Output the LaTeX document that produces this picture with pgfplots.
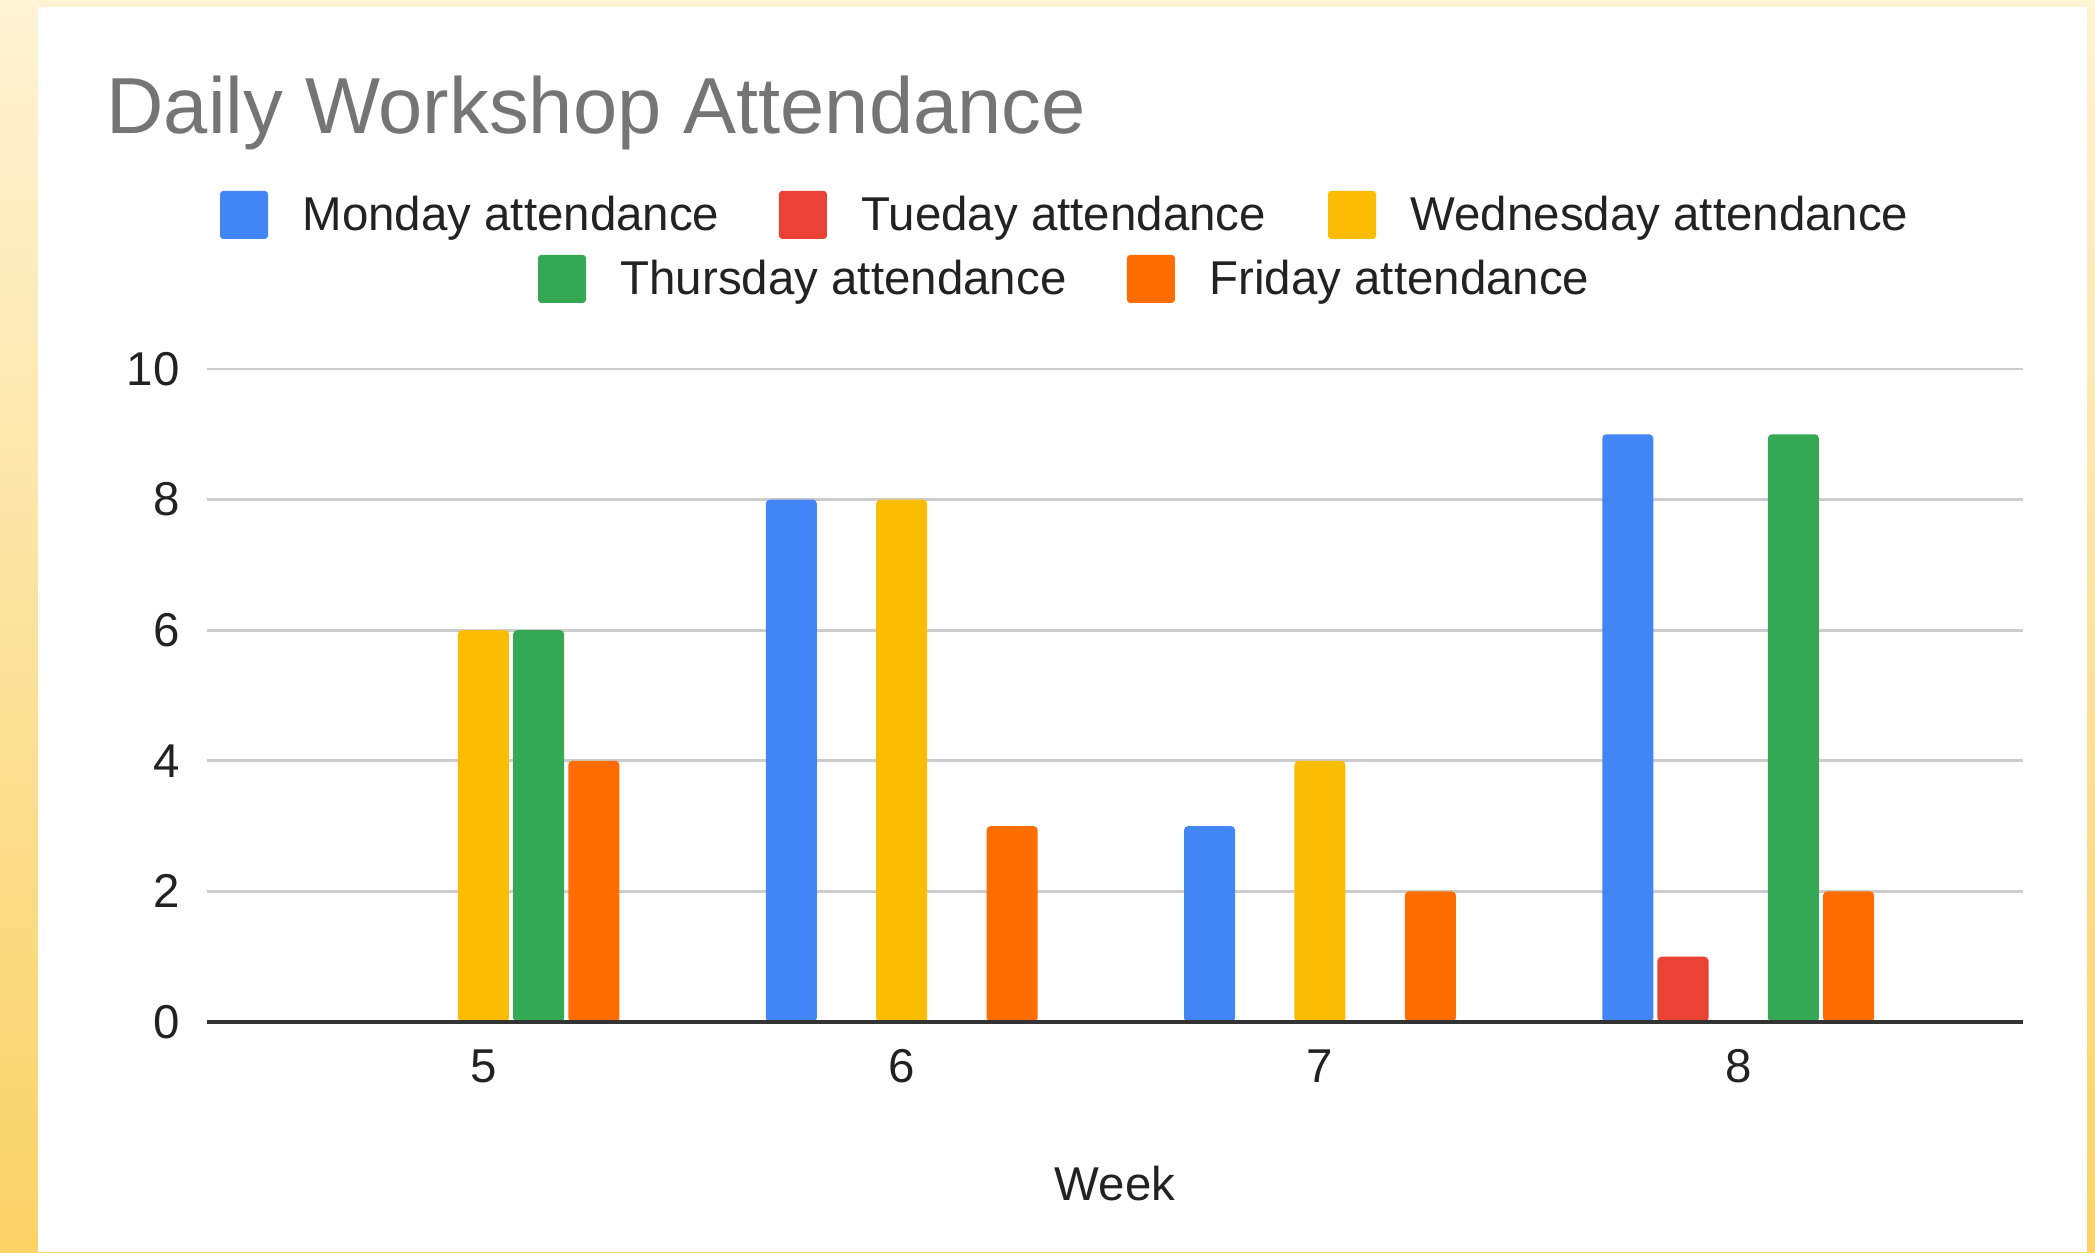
\documentclass[border=0pt]{standalone}
\usepackage{fontspec}
\setmainfont{Liberation Sans}
\usepackage{pgfplots}
\pgfplotsset{compat=1.18}
\definecolor{cMon}{HTML}{4285F4}
\definecolor{cTue}{HTML}{EA4335}
\definecolor{cWed}{HTML}{FBBC04}
\definecolor{cThu}{HTML}{34A853}
\definecolor{cFri}{HTML}{FF6D01}
\definecolor{bgTop}{HTML}{FEF3D4}
\definecolor{bgBot}{HTML}{FAD366}
\definecolor{titlegray}{HTML}{757575}
\definecolor{txt}{HTML}{222222}
\definecolor{gridc}{HTML}{CCCCCC}
\definecolor{axisc}{HTML}{333333}
\newcommand{\lfont}{\fontsize{17.8}{21}\selectfont}
\newcommand{\legentry}[5]{%
  \fill[#4, rounded corners=1.2pt] (#1pt,#2pt-9pt) rectangle (#1pt+18pt,#2pt+9pt);
  \node[anchor=base west, inner sep=0pt, text=txt, font=\lfont] at (#1pt+30.75pt,#3pt) {#5};
}
\begin{document}
\begin{tikzpicture}
\useasboundingbox (0,0) rectangle (785.625pt,469.5pt);
\shade[top color=bgTop, bottom color=bgBot] (0,0) rectangle (785.625pt,469.5pt);
\fill[white] (14.25pt,0) rectangle (782.6pt,466.9pt);
\node[anchor=base west, inner sep=0pt, text=titlegray, font=\fontsize{29.8}{36}\selectfont] at (39.75pt,419.25pt) {Daily Workshop Attendance};
\legentry{82.5}{388.9}{382.9}{cMon}{Monday attendance}
\legentry{292.1}{388.9}{382.9}{cTue}{Tueday attendance}
\legentry{498}{388.9}{382.9}{cWed}{Wednesday attendance}
\legentry{201.75}{364.9}{358.9}{cThu}{Thursday attendance}
\legentry{422.6}{364.9}{358.9}{cFri}{Friday attendance}
\begin{axis}[
  at={(77.625pt,86.25pt)}, anchor=south west,
  scale only axis, width=681pt, height=244.875pt,
  xmin=4.339, xmax=8.681, ymin=0, ymax=10,
  xtick={5,6,7,8}, ytick={0,2,4,6,8,10},
  ymajorgrids, grid style={color=gridc, line width=1.1pt},
  axis line style={draw=none},
  major tick length=0pt, tick style={draw=none},
  /pgf/number format/assume math mode=true,
  ticklabel style={font=\lfont, text=txt},
  yticklabel style={anchor=east, inner sep=0pt, xshift=-10.1pt},
  xticklabel style={anchor=base, inner sep=0pt, yshift=-22.5pt},
  xlabel={Week},
  every axis x label/.style={at={(axis description cs:0.5,0)}, anchor=base, inner sep=0pt, yshift=-66.75pt, font=\lfont, text=txt},
  clip=false,
  every axis plot/.append style={ybar, bar width=0.122, draw=none, rounded corners=1.5pt},
]
\addplot[fill=cMon, bar shift=-0.264] coordinates {(6,8) (7,3) (8,9)};
\addplot[fill=cTue, bar shift=-0.132] coordinates {(8,1)};
\addplot[fill=cWed, bar shift=0] coordinates {(5,6) (6,8) (7,4)};
\addplot[fill=cThu, bar shift=0.132] coordinates {(5,6) (8,9)};
\addplot[fill=cFri, bar shift=0.264] coordinates {(5,4) (6,3) (7,2) (8,2)};
\draw[axisc, line width=1.5pt] (axis cs:4.339,0) -- (axis cs:8.681,0);
\end{axis}
\end{tikzpicture}
\end{document}
